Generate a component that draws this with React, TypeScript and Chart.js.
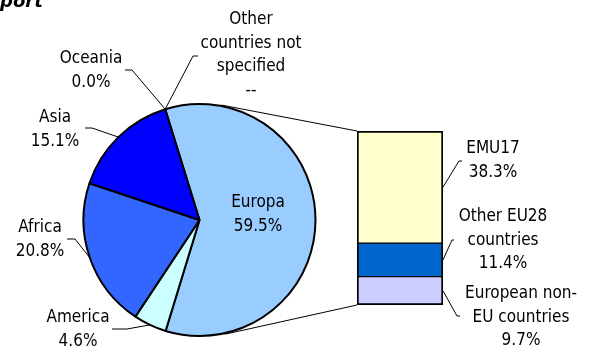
import React, { useEffect, useRef } from "react";
import { Chart, registerables } from "chart.js";

Chart.register(...registerables);

// ---- Data ----
const titleText = "port";

const pieLabels: (string | string[])[] = [
  "Europa",
  "America",
  "Africa",
  "Asia",
  "Oceania",
  ["Other", "countries not", "specified"],
];
const pieValues = [59.5, 4.6, 20.8, 15.1, 0.0, 0.0];
const pieValueText = ["59.5%", "4.6%", "20.8%", "15.1%", "0.0%", "--"];

// stacked from bottom to top
const barLabels: (string | string[])[] = [
  ["European non-", "EU countries"],
  ["Other EU28", "countries"],
  "EMU17",
];
const barValues = [9.7, 11.4, 38.3];
const barValueText = ["9.7%", "11.4%", "38.3%"];

// ---- Styles / layout ----
const pieColors = ["#99CCFF", "#CCFFFF", "#3366FF", "#0000FF", "#FFFFFF", "#FFFFFF"];
const barColors = ["#CCCCFF", "#0066CC", "#FFFFCC"];
const FONT = '17px "DejaVu Sans Condensed", "DejaVu Sans", sans-serif';
const LINE_H = 23.5;

type LabelPos = { x: number; y: number; leader?: number[][] };
const pieLabelLayout: LabelPos[] = [
  { x: 258, y: 203 },
  { x: 78, y: 318, leader: [[112, 329], [127, 329]] },
  { x: 40, y: 228, leader: [[67, 239], [75, 239]] },
  { x: 55, y: 118, leader: [[85, 128], [92, 128]] },
  { x: 91, y: 59, leader: [[125, 70], [132, 70]] },
  { x: 251, y: 20, leader: [[198, 56], [193, 56]] },
];
const barLabelLayout: LabelPos[] = [
  { x: 521, y: 294, leader: [[460, 316], [457, 316]] },
  { x: 503, y: 217, leader: [[454, 240], [452, 240]] },
  { x: 493, y: 149, leader: [[462, 161], [459, 161]] },
];

function drawLines(ctx: CanvasRenderingContext2D, lines: string[], x: number, y: number) {
  lines.forEach((t, i) => ctx.fillText(t, x, y + i * LINE_H));
}

export default function App() {
  const pieRef = useRef<HTMLCanvasElement>(null);
  const barRef = useRef<HTMLCanvasElement>(null);

  useEffect(() => {
    document.body.style.margin = "0";
    if (!pieRef.current || !barRef.current) return;

    const pie = new Chart(pieRef.current, {
      type: "pie",
      data: {
        labels: pieLabels as any,
        datasets: [
          {
            data: pieValues,
            backgroundColor: pieColors,
            borderColor: "#000000",
            borderWidth: 2,
          },
        ],
      },
      options: {
        responsive: false,
        animation: false,
        events: [],
        rotation: -17.2,
        radius: 116,
        layout: { padding: { left: 80, right: 270, top: 101, bottom: 13 } },
        plugins: { legend: { display: false }, tooltip: { enabled: false } },
      } as any,
    });

    const total = barValues.reduce((a, b) => a + b, 0);

    const overlay = {
      id: "overlay",
      afterDraw(chart: any) {
        const ctx: CanvasRenderingContext2D = chart.ctx;
        ctx.save();
        // title
        ctx.fillStyle = "#000";
        ctx.font = 'italic bold 18px "DejaVu Sans", sans-serif';
        ctx.textAlign = "left";
        ctx.textBaseline = "alphabetic";
        ctx.fillText(titleText, 0, 6.5);

        const arcs: any[] = pie.getDatasetMeta(0).data as any[];
        const a0 = arcs[0];
        const cx = a0.x, cy = a0.y, R = a0.outerRadius + 1;

        const bars: any[] = [0, 1, 2].map((i) => chart.getDatasetMeta(i).data[0]);
        const left = bars[0].x - bars[0].width / 2;
        const right = bars[0].x + bars[0].width / 2;
        const top = bars[2].y;
        const bottom = bars[0].base;

        // connector tangent lines
        ctx.strokeStyle = "#000";
        ctx.lineWidth = 1;
        const tangent = (px: number, py: number, sign: number) => {
          const dx = px - cx, dy = py - cy;
          const d = Math.hypot(dx, dy);
          const ang = Math.atan2(dy, dx) + sign * Math.acos(R / d);
          return [cx + R * Math.cos(ang), cy + R * Math.sin(ang)];
        };
        const t1 = tangent(left, top, -1);
        const t2 = tangent(left, bottom, 1);
        ctx.beginPath();
        ctx.moveTo(t1[0], t1[1]);
        ctx.lineTo(left, top);
        ctx.moveTo(t2[0], t2[1]);
        ctx.lineTo(left, bottom);
        ctx.stroke();

        // pie labels
        ctx.font = FONT;
        ctx.textAlign = "center";
        ctx.textBaseline = "middle";
        arcs.forEach((arc: any, i: number) => {
          const lay = pieLabelLayout[i];
          const lbl = pieLabels[i];
          const lines = [...(Array.isArray(lbl) ? lbl : [lbl]), pieValueText[i]];
          drawLines(ctx, lines, lay.x, lay.y);
          if (lay.leader) {
            const ang = pieValues[i] > 0 ? (arc.startAngle + arc.endAngle) / 2 : arc.startAngle;
            const ax = cx + (R - 1) * Math.cos(ang), ay = cy + (R - 1) * Math.sin(ang);
            ctx.beginPath();
            ctx.moveTo(lay.leader[0][0], lay.leader[0][1]);
            ctx.lineTo(lay.leader[1][0], lay.leader[1][1]);
            ctx.lineTo(ax, ay);
            ctx.stroke();
          }
        });

        // bar labels
        bars.forEach((bar: any, i: number) => {
          const lay = barLabelLayout[i];
          const lbl = barLabels[i];
          const lines = [...(Array.isArray(lbl) ? lbl : [lbl]), barValueText[i]];
          drawLines(ctx, lines, lay.x, lay.y);
          if (lay.leader) {
            const my = (bar.y + bar.base) / 2;
            ctx.beginPath();
            ctx.moveTo(right, my);
            ctx.lineTo(lay.leader[1][0], lay.leader[1][1]);
            ctx.lineTo(lay.leader[0][0], lay.leader[0][1]);
            ctx.stroke();
          }
        });
        ctx.restore();
      },
    };

    const borders = [
      { top: 1, bottom: 2, left: 2, right: 2 },
      { top: 1, bottom: 1, left: 2, right: 2 },
      { top: 2, bottom: 1, left: 2, right: 2 },
    ];

    const bar = new Chart(barRef.current, {
      type: "bar",
      data: {
        labels: [""],
        datasets: barValues.map((v, i) => ({
          label: Array.isArray(barLabels[i]) ? (barLabels[i] as string[]).join(" ") : (barLabels[i] as string),
          data: [v],
          backgroundColor: barColors[i],
          borderColor: "#000000",
          borderWidth: borders[i],
          borderSkipped: false,
          barPercentage: 1,
          categoryPercentage: 1,
        })),
      },
      options: {
        responsive: false,
        animation: false,
        events: [],
        layout: { padding: { left: 357, right: 146, top: 131, bottom: 47 } },
        scales: {
          x: { display: false, stacked: true },
          y: { display: false, stacked: true, min: 0, max: total },
        },
        plugins: { legend: { display: false }, tooltip: { enabled: false } },
      } as any,
      plugins: [overlay],
    });

    return () => {
      bar.destroy();
      pie.destroy();
    };
  }, []);

  return (
    <div style={{ position: "relative", width: 589, height: 352, background: "#fff" }}>
      <canvas ref={pieRef} width={589} height={352} style={{ position: "absolute", left: 0, top: 0 }} />
      <canvas ref={barRef} width={589} height={352} style={{ position: "absolute", left: 0, top: 0 }} />
    </div>
  );
}
